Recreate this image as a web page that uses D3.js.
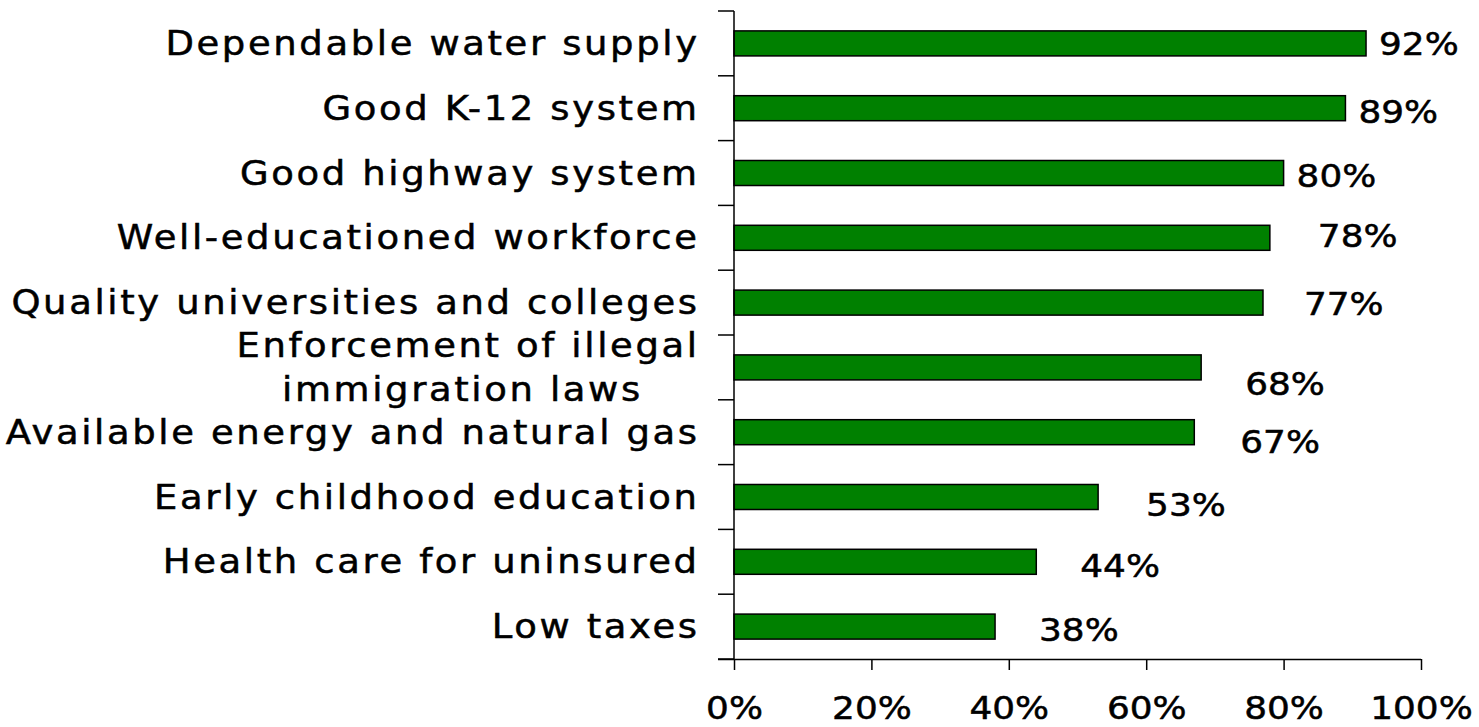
<!DOCTYPE html>
<html>
<head>
<meta charset="utf-8">
<script src="https://cdn.jsdelivr.net/npm/d3@7/dist/d3.min.js"></script>
<style>
  html, body { margin: 0; padding: 0; background: #fff; }
  svg { display: block; }
  text { font-family: "DejaVu Sans", Verdana, sans-serif; fill: #000; stroke: #000; stroke-width: 0.5px; }
</style>
</head>
<body>
<svg id="chart" width="1479" height="727"></svg>
<script>
// ---- data ----
const categories = [
  ["Dependable water supply"],
  ["Good K-12 system"],
  ["Good highway system"],
  ["Well-educationed workforce"],
  ["Quality universities and colleges"],
  ["Enforcement of illegal", "immigration laws"],
  ["Available energy and natural gas"],
  ["Early childhood education"],
  ["Health care for uninsured"],
  ["Low taxes"]
];
const values = [0.92, 0.89, 0.80, 0.78, 0.77, 0.68, 0.67, 0.53, 0.44, 0.38];
const valueLabels = ["92%", "89%", "80%", "78%", "77%", "68%", "67%", "53%", "44%", "38%"];
const xTickValues = [0, 0.2, 0.4, 0.6, 0.8, 1.0];
// label placement nudges as in the original (gap from bar end, vertical shift)
const labelGap = [13, 13, 13, 48, 41, 44, 46, 48, 44, 44];
const labelShift = [0, 3, 2, -2, 1, 16, 9, 7, 4, 3];

// ---- layout ----
const svg = d3.select("#chart");
const x0 = 734, x1 = 1421, yTop = 11, yBot = 659;
const keys = categories.map((c, i) => i);

const x = d3.scaleLinear().domain([0, 1]).range([x0, x1]);
const y = d3.scaleBand().domain(keys).range([yTop, yBot])
  .paddingInner(0.614).paddingOuter(0.307);
const step = y.step();

const catFont = 33;
const numFont = 32;
const sx = 1.12;
const catSpacing = 2.35;

// bars
svg.append("g").selectAll("rect").data(values).join("rect")
  .attr("x", x(0))
  .attr("y", (d, i) => y(i))
  .attr("width", d => x(d) - x(0))
  .attr("height", y.bandwidth())
  .attr("fill", "#008000")
  .attr("stroke", "#000")
  .attr("stroke-width", 1.5);

// y axis line + ticks at band boundaries
const yAx = svg.append("g");
yAx.append("line").attr("x1", x0).attr("x2", x0).attr("y1", yTop).attr("y2", yBot)
  .attr("stroke", "#000").attr("stroke-width", 1.5);
d3.range(keys.length + 1).forEach(i => {
  const yy = y.range()[0] + i * step;
  yAx.append("line").attr("x1", x0 - 16).attr("x2", x0).attr("y1", yy).attr("y2", yy)
    .attr("stroke", "#000").attr("stroke-width", 1.5);
});

// x axis
const xAx = svg.append("g").attr("transform", `translate(0,${yBot})`)
  .call(d3.axisBottom(x).tickValues(xTickValues).tickSize(11).tickSizeOuter(0)
    .tickFormat(d3.format(".0%")));
xAx.select(".domain").attr("stroke", "#000").attr("stroke-width", 1.5)
  .attr("d", `M${x0 - 16},0.5H${x1}`);
xAx.selectAll(".tick line").attr("stroke", "#000").attr("stroke-width", 1.5);
xAx.selectAll(".tick text")
  .attr("y", 0).attr("dy", null)
  .attr("transform", `translate(0,${719 - yBot}) scale(${sx},1)`)
  .style("font-family", '"DejaVu Sans", Verdana, sans-serif')
  .style("font-size", numFont + "px")
  .attr("fill", "#000");

// category labels
const labelRight = x0 - 37 + catSpacing * sx;
const lineGap = 44;
categories.forEach((lines, i) => {
  const cy = y(i) + y.bandwidth() / 2;
  const n = lines.length;
  const g = svg.append("g");
  let firstLen = null;
  lines.forEach((t, j) => {
    const base = cy + 11.5 + (j - (n - 1) / 2) * lineGap;
    const gg = g.append("g").attr("transform", `translate(${labelRight},${base}) scale(${sx},1)`);
    const txt = gg.append("text")
      .attr("text-anchor", "end")
      .style("font-size", catFont + "px")
      .style("letter-spacing", catSpacing + "px")
      .text(t);
    if (j === 0) firstLen = txt.node().getComputedTextLength();
    else {
      txt.attr("text-anchor", "middle").attr("x", -firstLen / 2 - 5);
    }
  });
});

// value labels
svg.append("g").selectAll("g").data(values).join("g")
  .attr("transform", (d, i) =>
    `translate(${x(d) + labelGap[i]},${y(i) + y.bandwidth() / 2 + 11.5 + labelShift[i]}) scale(${sx},1)`)
  .append("text")
  .attr("text-anchor", "start")
  .style("font-size", numFont + "px")
  .text((d, i) => valueLabels[i]);
</script>
</body>
</html>
